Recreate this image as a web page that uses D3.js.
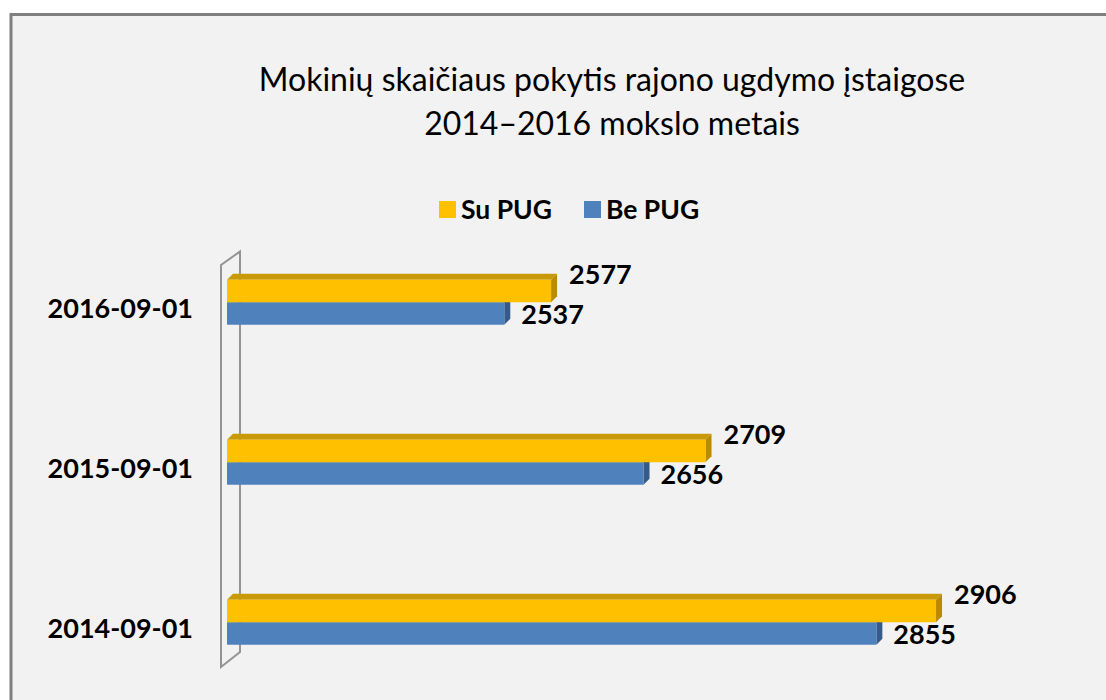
<!DOCTYPE html>
<html><head><meta charset="utf-8">
<script src="https://cdn.jsdelivr.net/npm/d3@7"></script>
<style>html,body{margin:0;padding:0;background:#fff;} svg{display:block;}</style>
</head><body>
<svg id="chart" width="1106" height="700"></svg>
<script>
const categories = ["2016-09-01", "2015-09-01", "2014-09-01"];
const seriesNames = ["Su PUG", "Be PUG"];
const suPUG = [2577, 2709, 2906];
const bePUG = [2537, 2656, 2855];
const axisDomain = [2300, 3000];
const titleLines = ["Mokinių skaičiaus pokytis rajono ugdymo įstaigose", "2014–2016 mokslo metais"];
const seriesColors = {
  "Su PUG": {front: "#FFC000", top: "#C89A0A", side: "#B98C00"},
  "Be PUG": {front: "#4F81BD", top: "#3B6596", side: "#345B8A"}
};

const svg = d3.select("#chart");
const FONT = "Lato, 'Open Sans', sans-serif";

// chart area background + frame
svg.append("rect").attr("x", 11).attr("y", 14.5).attr("width", 1120).attr("height", 720)
  .attr("fill", "#f2f2f2").attr("stroke", "#7f7f7f").attr("stroke-width", 3);

// title
const title = svg.append("text").attr("text-anchor", "middle")
  .attr("font-family", FONT).attr("font-size", 32).attr("fill", "#000");
titleLines.forEach((t, i) => {
  title.append("tspan").attr("x", 612).attr("y", 91 + i * 44).text(t);
});

// scales
const x = d3.scaleLinear().domain(axisDomain).range([227, 1046]);
const y = d3.scaleBand().domain(categories).range([222.25, 702.25])
  .paddingInner(0.71875).paddingOuter(0.359375);
const ys = d3.scaleBand().domain(seriesNames).range([0, y.bandwidth()]);

const depthX = 6, depthY = 6;

// side wall (3D)
const wallFrontX = x.range()[0] - 6, wallBackX = x.range()[0] + 13;
const wallTop = y.range()[0] + 42.75, wallBottom = y.range()[1] - 35.25;
const wall = svg.append("g").attr("fill", "none").attr("stroke", "#949494").attr("stroke-width", 2);
wall.append("path").attr("d",
  `M${wallFrontX},${wallTop} L${wallBackX},${wallTop - 13.5} L${wallBackX},${wallBottom - 15} L${wallFrontX},${wallBottom} Z`);

// bars
const rows = categories.map((c, i) => ({cat: c, values: {"Su PUG": suPUG[i], "Be PUG": bePUG[i]}}));
const drawOrder = ["Be PUG", "Su PUG"];
const barsG = svg.append("g");
rows.forEach(r => {
  drawOrder.forEach(s => {
    const v = r.values[s];
    const x0 = x(axisDomain[0]), x1 = x(v);
    const yt = y(r.cat) + ys(s), yb = yt + ys.bandwidth();
    const col = seriesColors[s];
    const g = barsG.append("g");
    g.append("polygon").attr("fill", col.top)
      .attr("points", [[x0, yt], [x0 + depthX, yt - depthY], [x1 + depthX, yt - depthY], [x1, yt]].map(p => p.join(",")).join(" "));
    g.append("polygon").attr("fill", col.side)
      .attr("points", [[x1, yt], [x1 + depthX, yt - depthY], [x1 + depthX, yb - depthY], [x1, yb]].map(p => p.join(",")).join(" "));
    g.append("rect").attr("x", x0).attr("y", yt).attr("width", x1 - x0).attr("height", yb - yt).attr("fill", col.front);
  });
});

// value labels
rows.forEach(r => {
  seriesNames.forEach(s => {
    const v = r.values[s];
    const yc = y(r.cat) + ys(s) + ys.bandwidth() / 2;
    const isTop = s === "Su PUG";
    svg.append("text").attr("x", x(v) + (isTop ? 18 : 17))
      .attr("y", yc + (isTop ? -17 : 1) + 9.7)
      .attr("font-family", FONT).attr("font-weight", "bold").attr("font-size", 27)
      .attr("fill", "#000").text(v);
  });
});

// category labels
categories.forEach(c => {
  svg.append("text").attr("x", 193).attr("y", y(c) + ys.bandwidth() + 6 + 9.7)
    .attr("text-anchor", "end").attr("font-family", FONT).attr("font-weight", "bold")
    .attr("font-size", 27).attr("fill", "#000").text(c);
});

// legend
const legend = svg.append("g");
const legendX = [439, 584];
seriesNames.forEach((s, i) => {
  legend.append("rect").attr("x", legendX[i]).attr("y", 201).attr("width", 17).attr("height", 17)
    .attr("fill", seriesColors[s].front);
  legend.append("text").attr("x", legendX[i] + 22).attr("y", 218.5)
    .attr("font-family", FONT).attr("font-weight", "bold").attr("font-size", 26.5)
    .attr("fill", "#000").text(s);
});
</script>
</body></html>
